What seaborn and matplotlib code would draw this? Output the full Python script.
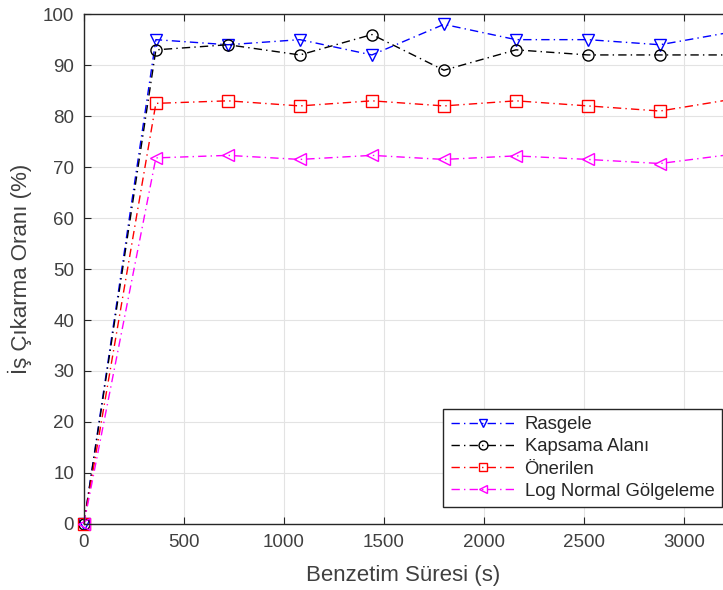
import numpy as np
import pandas as pd
import seaborn as sns
import matplotlib.pyplot as plt

# benzetim zamanları (s)
zaman = [0, 360, 720, 1080, 1440, 1800, 2160, 2520, 2880, 3240]

rasgele = [0, 95, 94, 95, 92, 98, 95, 95, 94, 96.5]
kapsama = [0, 93, 94, 92, 96, 89, 93, 92, 92, 92]
onerilen = [0, 82.5, 83, 82, 83, 82, 83, 82, 81, 83.3]
lognormal = [0, 71.8, 72.3, 71.5, 72.3, 71.5, 72.2, 71.5, 70.7, 72.5]

seriler = ["Rasgele", "Kapsama Alanı", "Önerilen", "Log Normal Gölgeleme"]
renkler = ["#0000ff", "#000000", "#ff0000", "#ff00ff"]
isaretler = ["v", "o", "s", "<"]

df = pd.DataFrame({
    "zaman": zaman * 4,
    "oran": rasgele + kapsama + onerilen + lognormal,
    "seri": np.repeat(seriler, len(zaman)),
})

sns.set_style("whitegrid")
plt.rcParams["font.family"] = ["Liberation Sans", "DejaVu Sans"]

fig = plt.figure(figsize=(7.23, 5.9), dpi=100)
ax = fig.add_axes([0.116, 0.112, 0.884, 0.864])

for s, c, m in zip(seriler, renkler, isaretler):
    sns.lineplot(data=df[df["seri"] == s], x="zaman", y="oran", ax=ax,
                 color=c, marker=m, markersize=8, markerfacecolor="none",
                 markeredgecolor=c, markeredgewidth=1.0,
                 linestyle=(0, (6, 3, 1, 3)), linewidth=1.0,
                 label=s, clip_on=False)

ax.set_xlim(0, 3195)
ax.set_ylim(0, 100)
ax.set_xticks([0, 500, 1000, 1500, 2000, 2500, 3000])
ax.set_yticks(range(0, 101, 10))
ax.grid(True, color="#e3e3e3", linewidth=0.8)
for sp in ["left", "bottom", "top"]:
    ax.spines[sp].set_color("#262626")
    ax.spines[sp].set_linewidth(1.0)
ax.spines["right"].set_visible(False)
ax.tick_params(direction="in", length=5, color="#262626", labelsize=13.5,
               labelcolor="#404040", top=True, left=True, bottom=True, pad=7)
ax.tick_params(axis="x", labeltop=False)

ax.set_xlabel("Benzetim Süresi (s)", fontsize=16, color="#404040", labelpad=10)
ax.set_ylabel("İş Çıkarma Oranı (%)", fontsize=16, color="#404040", labelpad=8)

leg = ax.legend(loc="lower right", bbox_to_anchor=(0.998, 0.033), fontsize=13.3,
                frameon=True, fancybox=False, edgecolor="#262626",
                handlelength=3.5, borderpad=0.4, labelspacing=0.28,
                handletextpad=0.5, markerscale=0.8, borderaxespad=0)
leg.get_frame().set_linewidth(1.0)
leg.get_frame().set_alpha(1.0)
for t in leg.get_texts():
    t.set_color("#262626")

fig.savefig("out.png", dpi=100)
